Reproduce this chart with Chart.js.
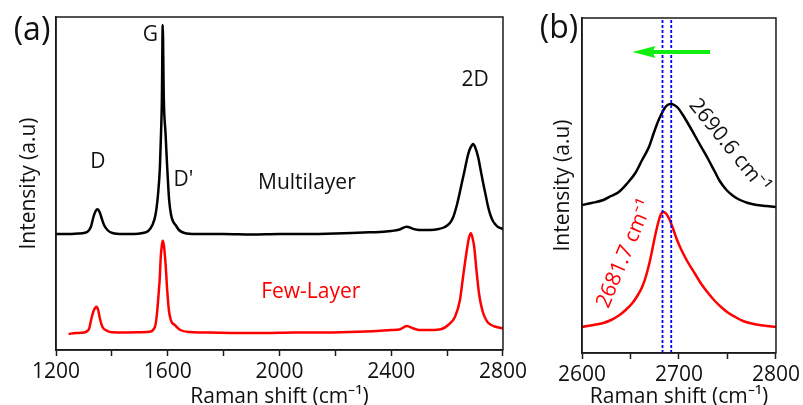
<!DOCTYPE html>
<html>
<head>
<meta charset="utf-8">
<script src="https://cdn.jsdelivr.net/npm/chart.js@4.4.1/dist/chart.umd.min.js"></script>
<style>
  html, body { margin: 0; padding: 0; background: #fff; overflow: hidden; }
  #wrapA { position: absolute; left: 0; top: 0; width: 530px; height: 405px; }
  #wrapB { position: absolute; left: 530px; top: 0; width: 273px; height: 405px; }
</style>
</head>
<body>
<div id="wrapA"><canvas id="chartA" width="530" height="405"></canvas></div>
<div id="wrapB"><canvas id="chartB" width="273" height="405"></canvas></div>
<script>
// panel (a): full spectra, 1200-2800 cm-1
const multiX = [1200,1240,1280,1300,1313,1325,1334,1342,1349,1356,1362,1372,1384,1402,1440,1480,1510,1530,1545,1556,1565,1572,1576,1579,1582,1586,1592,1598,1605,1612,1620,1628,1640,1660,1700,1800,1900,2000,2100,2200,2300,2360,2400,2430,2455,2480,2500,2540,2570,2592,2610,2622,2635,2645,2655,2663,2672,2680,2687,2693,2700,2711,2720,2729,2738,2746,2755,2764,2773,2782,2792,2800];
const multiY = [116,116,116.5,117,118.3,123.3,133,139,140.7,138,133,125,120,117,116,116,117,119,125,135,155,183,217,250,325,250,217,183,150,135,128,125,120,117,116,116,115.5,116,116,116.5,117.5,118,119,120.5,123.3,121,120,120,121,123,127,133,145,157,170,180,192,200,204,206,203,193,180,167,155,144,135,129,125.5,123,121.8,121];

const fewX = [1245,1270,1300,1312,1319,1327,1336,1345,1351,1357,1366,1384,1400,1450,1500,1540,1550,1556,1562,1567,1571,1575,1579,1582,1586,1592,1598,1604,1610,1616,1625,1645,1680,1750,1850,1950,2050,2150,2250,2350,2400,2430,2455,2480,2500,2540,2580,2604,2628,2646,2657,2669,2678,2685,2691,2697,2705,2714,2720,2729,2738,2746,2758,2770,2785,2800];
const fewY = [16,17,17.5,19,21.7,31.7,40,43.3,40,31.7,23.3,19,17.7,17.5,17.7,18.5,21,25,38,55,70,93,105,109.3,105,87,60,40,31,27,25,20,18,17.5,17,17,17.5,17.5,18,19,20,20.5,24,21.5,20,20,21,25,33,50,73,97,112,116.7,112,103,80,57,47,37,31,27.5,25,23.5,22.5,21.5];

// panel (b): 2D band zoom, 2600-2800 cm-1
const bMultiX = [2600,2610,2622,2630,2638,2646,2655,2662,2669,2674,2679,2683,2686,2689,2692,2695,2699,2704,2709,2716,2723,2730,2736,2742,2749,2756,2763,2771,2780,2790,2800];
const bMultiY = [148,150,153,157,161,169,180,193,206,220,233,241,246,248.5,249,248,245,238,230,218,206,194,183,172,163,157,153,150,148,147,146];

const bFewX = [2600,2612,2622,2630,2638,2645,2652,2657,2662,2666,2670,2673,2676,2679,2681,2684,2687,2690,2694,2698,2703,2709,2716,2723,2730,2737,2744,2751,2758,2766,2775,2787,2800];
const bFewY = [26,28,30,33,37.5,43,50,57,66,77,92,106,120,132,138,141,139,134,124,113,102,91,80,69,60,52,45.5,40,36,32,29.5,27.5,26];

const shiftLines = [2683, 2692];
const arrowFrom = 2732, arrowTo = 2652, arrowY = 301;

const FONT = "'Open Sans', sans-serif";
const INK = '#111';
const FS = 21;

const pts = (xs, ys) => xs.map((x, i) => ({ x: x, y: ys[i] }));

const framePlugin = {
  id: 'frame',
  afterDraw(chart) {
    const { ctx, chartArea: a } = chart;
    ctx.save();
    ctx.strokeStyle = '#1a1a1a';
    ctx.lineWidth = 1.5;
    ctx.strokeRect(a.left, a.top, a.right - a.left, a.bottom - a.top);
    ctx.restore();
  }
};

const notesPlugin = {
  id: 'notes',
  afterDatasetsDraw(chart, args, opts) {
    const { ctx, scales: { x, y } } = chart;
    (opts.items || []).forEach(n => {
      ctx.save();
      ctx.translate(x.getPixelForValue(n.x), y.getPixelForValue(n.y));
      ctx.rotate((n.angle || 0) * Math.PI / 180);
      ctx.font = (n.size || FS) + 'px ' + FONT;
      ctx.fillStyle = n.color || INK;
      ctx.textAlign = 'center';
      ctx.textBaseline = 'middle';
      ctx.fillText(n.text, 0, 0);
      ctx.restore();
    });
    if (opts.panel) {
      ctx.save();
      ctx.font = '32px ' + FONT;
      ctx.fillStyle = INK;
      ctx.textAlign = 'center';
      ctx.textBaseline = 'middle';
      ctx.fillText(opts.panel.text, opts.panel.px, opts.panel.py);
      ctx.restore();
    }
  }
};

const arrowPlugin = {
  id: 'arrow',
  afterDatasetsDraw(chart, args, opts) {
    if (opts.from === undefined) return;
    const { ctx, scales: { x, y } } = chart;
    const x0 = x.getPixelForValue(opts.from);
    const x1 = x.getPixelForValue(opts.to);
    const yy = y.getPixelForValue(opts.y);
    ctx.save();
    ctx.strokeStyle = ctx.fillStyle = opts.color;
    ctx.lineWidth = 4;
    ctx.beginPath();
    ctx.moveTo(x0, yy);
    ctx.lineTo(x1 + 16, yy);
    ctx.stroke();
    ctx.beginPath();
    ctx.moveTo(x1, yy);
    ctx.lineTo(x1 + 23, yy - 6);
    ctx.lineTo(x1 + 20, yy);
    ctx.lineTo(x1 + 23, yy + 6);
    ctx.closePath();
    ctx.fill();
    ctx.restore();
  }
};

function xScale(min, max, step, labelStep, height) {
  return {
    type: 'linear', min: min, max: max,
    afterFit: s => { s.height = height; },
    ticks: {
      stepSize: step, autoSkip: false, maxRotation: 0, padding: 3,
      color: INK, font: { family: FONT, size: FS },
      callback: v => (v % labelStep === 0 ? v : '')
    },
    grid: { drawOnChartArea: false, tickLength: 6, tickColor: '#1a1a1a', tickWidth: 1.5 },
    border: { color: '#1a1a1a', width: 1.5 },
    title: {
      display: true, text: 'Raman shift (cm⁻¹)', color: INK,
      font: { family: FONT, size: FS, lineHeight: 0.75 }, padding: { top: 4, bottom: 0 }
    }
  };
}

function yScale(max, width, pad) {
  return {
    min: 0, max: max,
    afterFit: s => { s.width = width; },
    ticks: { display: false },
    grid: { display: false, drawTicks: false },
    border: { color: '#1a1a1a', width: 1.5 },
    title: {
      display: true, text: 'Intensity (a.u)', color: INK,
      font: { family: FONT, size: FS, lineHeight: 1.2 }, padding: { top: pad, bottom: 0 }
    }
  };
}

function line(data, color) {
  return {
    data: data, borderColor: color, borderWidth: 2.5, pointRadius: 0,
    fill: false, cubicInterpolationMode: 'monotone'
  };
}

new Chart(document.getElementById('chartA'), {
  type: 'line',
  data: {
    datasets: [
      line(pts(multiX, multiY), '#000'),
      line(pts(fewX, fewY), '#ff0000')
    ]
  },
  options: {
    responsive: false, animation: false, devicePixelRatio: 1,
    layout: { padding: { left: 0, right: 25, top: 17, bottom: 0 } },
    scales: { x: xScale(1200, 2800, 200, 400, 55), y: yScale(333, 56, 16.4) },
    plugins: {
      legend: { display: false },
      tooltip: { enabled: false },
      notes: {
        panel: { text: '(a)', px: 32, py: 31 },
        items: [
          { text: 'G', x: 1538, y: 315 },
          { text: 'D', x: 1350, y: 188 },
          { text: "D'", x: 1656, y: 170 },
          { text: 'Multilayer', x: 2098, y: 167 },
          { text: 'Few-Layer', x: 2112, y: 58, color: '#ff0000' },
          { text: '2D', x: 2700, y: 270 }
        ]
      }
    }
  },
  plugins: [framePlugin, notesPlugin, arrowPlugin]
});

new Chart(document.getElementById('chartB'), {
  type: 'line',
  data: {
    datasets: [
      { data: [{ x: shiftLines[0], y: 0 }, { x: shiftLines[0], y: 335 }], borderColor: '#0000ff', borderWidth: 1.8, borderDash: [3, 2], pointRadius: 0 },
      { data: [{ x: shiftLines[1], y: 0 }, { x: shiftLines[1], y: 335 }], borderColor: '#0000ff', borderWidth: 1.8, borderDash: [3, 2], pointRadius: 0 },
      line(pts(bMultiX, bMultiY), '#000'),
      line(pts(bFewX, bFewY), '#ff0000')
    ]
  },
  options: {
    responsive: false, animation: false, devicePixelRatio: 1,
    layout: { padding: { left: 0, right: 23, top: 18, bottom: 0 } },
    scales: { x: xScale(2600, 2800, 50, 100, 52), y: yScale(335, 52, 20.4) },
    plugins: {
      legend: { display: false },
      tooltip: { enabled: false },
      arrow: { from: arrowFrom, to: arrowTo, y: arrowY, color: '#11ee11' },
      notes: {
        panel: { text: '(b)', px: 29, py: 29 },
        items: [
          { text: '2690.6 cm⁻¹', x: 2751.5, y: 207, angle: 51 },
          { text: '2681.7 cm⁻¹', x: 2644.4, y: 99, angle: -67, color: '#ff0000' }
        ]
      }
    }
  },
  plugins: [framePlugin, notesPlugin, arrowPlugin]
});
</script>
</body>
</html>
